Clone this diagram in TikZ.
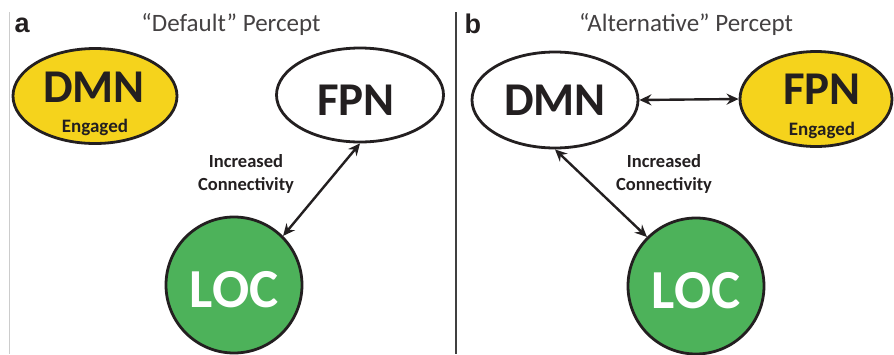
\documentclass[tikz,border=0pt]{standalone}
\usepackage{fontspec}
\setmainfont{Carlito}
\newfontfamily\arialf{Liberation Sans}
\usetikzlibrary{shapes.geometric,arrows.meta}
\definecolor{yel}{HTML}{F5D31C}
\definecolor{grn}{HTML}{4DB25A}
\definecolor{txt}{HTML}{231F20}
\tikzset{
  ell/.style={ellipse,draw=txt,line width=2.8pt,inner sep=0pt},
  locc/.style={circle,draw=txt,line width=2.8pt,fill=grn,inner sep=0pt,minimum size=136pt},
  big/.style={font=\bfseries\fontsize{47}{47}\selectfont,text=txt},
  loct/.style={font=\bfseries\fontsize{55}{55}\selectfont,text=white},
  eng/.style={font=\bfseries\fontsize{19}{19}\selectfont,text=txt},
  conn/.style={font=\bfseries\fontsize{18.5}{23}\selectfont,text=txt,align=center},
  ttl/.style={font=\fontsize{25}{25}\selectfont,text=txt!85},
  plab/.style={font=\arialf\bfseries\fontsize{27}{27}\selectfont,text=txt},
  arr/.style={line width=2.4pt,draw=txt,{Stealth[length=12pt,width=11pt,inset=4pt]}-{Stealth[length=12pt,width=11pt,inset=4pt]}}
}
\begin{document}
\begin{tikzpicture}[x=1pt,y=-1pt]
\useasboundingbox (0,0) rectangle (894,354);
\fill[white] (0,0) rectangle (894,354);
% frame lines
\draw[black!20,line width=1pt] (9.5,12) -- (9.5,354);
\draw[black!75,line width=2pt] (456,12) -- (456,354);
% panel labels
\node[plab,anchor=base west] (la) at (11,32) {a};
\node[plab,anchor=base west] (lb) at (461,33) {b};
\node[ttl] (ta) at (231,24) {“Default” Percept};
\node[ttl] (tb) at (686,24) {“Alternative” Percept};
% panel a
\node[ell,fill=yel,minimum width=164pt,minimum height=95pt] (dmna) at (95,96) {};
\node[big] (dmnat) at (94,87) {DMN};
\node[eng] (enga) at (95,127) {Engaged};
\node[ell,fill=white,minimum width=167pt,minimum height=94pt] (fpna) at (360,95) {};
\node[big] (fpnat) at (356,100) {FPN};
\node[locc] (loca) at (234,285) {};
\node[loct] (locat) at (234,290) {LOC};
\node[conn] (ca) at (246,174) {Increased\\Connectivity};
\draw[arr] (fpna.south) -- (loca.45);
% panel b
\node[ell,fill=white,minimum width=166pt,minimum height=96pt] (dmnb) at (555,100) {};
\node[big] (dmnbt) at (555,100) {DMN};
\node[ell,fill=yel,minimum width=152pt,minimum height=95pt] (fpnb) at (816,99) {};
\node[big] (fpnbt) at (822,89) {FPN};
\node[eng] (engb) at (822,130) {Engaged};
\node[locc] (locb) at (696,286) {};
\node[loct] (locbt) at (696,291) {LOC};
\node[conn] (cb) at (664,174) {Increased\\Connectivity};
\draw[arr] (dmnb.east) -- (fpnb.west);
\draw[arr] (dmnb.south) -- (locb.135);
\end{tikzpicture}
\end{document}
